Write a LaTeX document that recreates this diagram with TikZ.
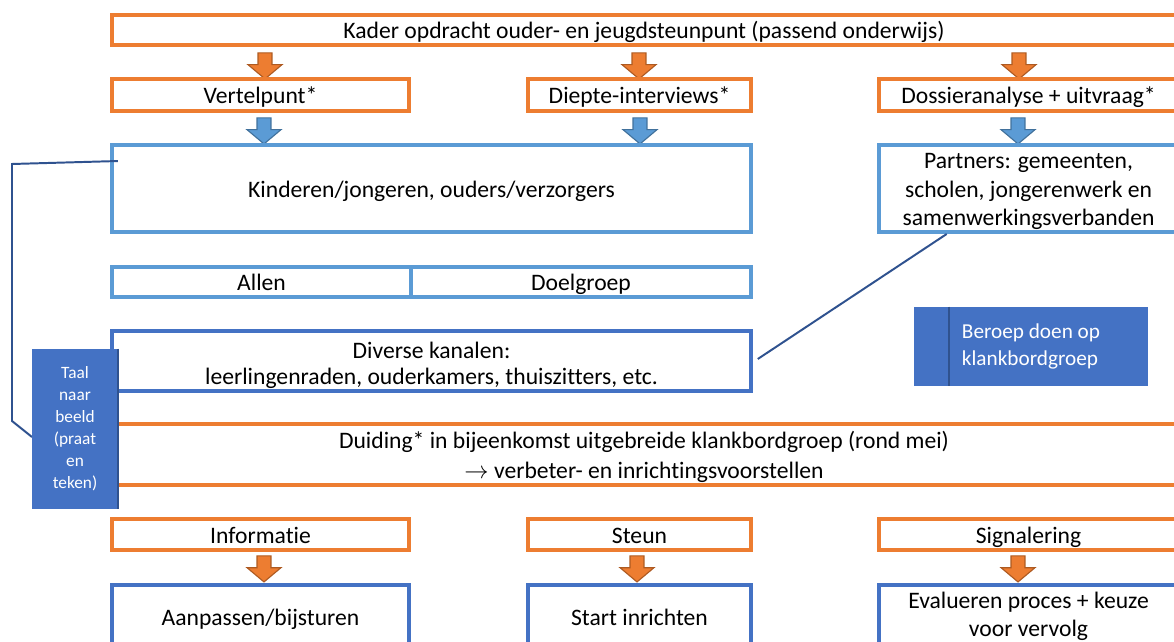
\documentclass[tikz,border=0pt]{standalone}
\usepackage{fontspec}
\setmainfont{Carlito}[Ligatures=NoCommon]
\usetikzlibrary{shapes.arrows,calc}
\definecolor{kaderorange}{HTML}{ED7D31}
\definecolor{orangeedge}{HTML}{AE5A21}
\definecolor{lichtblauw}{HTML}{5B9BD5}
\definecolor{lichtedge}{HTML}{41719C}
\definecolor{donkerblauw}{HTML}{4472C4}
\definecolor{blauwedge}{HTML}{2F528F}
\tikzset{
    %Define style for boxes
    obox/.style={
           rectangle,
           draw=kaderorange, line width=2.8pt,
           inner sep=0pt,
           text height=14pt,
           text depth=1.8pt},
    lbox/.style={
           obox,
           draw=lichtblauw},
    dbox/.style={
           obox,
           draw=donkerblauw, line width=2.4pt},
    fbox/.style={
           rectangle,
           fill=donkerblauw,
           text=white,
           inner sep=0pt},
    meerregel/.style={
           align=center,
           text height=,
           text depth=},
    % Define block arrows
    oarrow/.style={
           single arrow,
           shape border rotate=270,
           fill=kaderorange, draw=orangeedge, line width=0.8pt,
           minimum height=0.65cm,
           inner sep=0.16cm,
           single arrow head extend=0.25cm,
           single arrow tip angle=100},
    barrow/.style={
           oarrow,
           fill=lichtblauw, draw=lichtedge},
    % Define line style
    link/.style={
           draw=blauwedge,
           line width=1.4pt}
}
\begin{document}
\begin{tikzpicture}[x=0.025cm, y=-0.025cm, font=\fontsize{16.8}{20}\selectfont]
    \useasboundingbox (0,0) rectangle (1174,642);
    \clip (0,0) rectangle (1174,642);

    % TOP
    \node[obox, minimum width=26.6cm, minimum height=0.75cm] at (644,30) (kader)
        {Kader opdracht ouder- en jeugdsteunpunt (passend onderwijs)};
    \node[oarrow] at (265,63) (pijlA) {};
    \node[oarrow] at (639,63) (pijlB) {};
    \node[oarrow] at (1019,63) (pijlC) {};

    \node[obox, minimum width=7.425cm, minimum height=0.8cm] at (260.5,95) (vertel) {Vertelpunt*};
    \node[obox, minimum width=5.575cm, minimum height=0.8cm] at (639.5,95) (diepte) {Diepte-interviews*};
    \node[obox, minimum width=7.475cm, minimum height=0.8cm] at (1028.5,95) (dossier) {Dossieranalyse + uitvraag*};
    \node[barrow] at (264,128) (pijlD) {};
    \node[barrow] at (640,128) (pijlE) {};
    \node[barrow] at (1018,128) (pijlF) {};

    % MIDDLE
    \node[lbox, minimum width=15.975cm, minimum height=2.175cm] at (431.5,188.5) (kinderen)
        {Kinderen/jongeren, ouders/verzorgers};
    \node[lbox, meerregel, minimum width=7.475cm, minimum height=2.175cm] at (1028.5,188.5) (partners)
        {\rule{0pt}{15pt}Partners: gemeenten,\\ scholen, jongerenwerk en\\ samenwerkingsverbanden};
    \node[lbox, minimum width=7.475cm, minimum height=0.75cm] at (261.5,282) (allen) {Allen};
    \node[lbox, minimum width=8.5cm, minimum height=0.75cm] at (581,282) (doelgroep) {Doelgroep};
    \node[dbox, meerregel, minimum width=15.975cm, minimum height=1.5cm] at (431.5,361) (diverse)
        {\rule{0pt}{18pt}Diverse kanalen:\\[-1pt] leerlingenraden, ouderkamers, thuiszitters, etc.};
    \node[fbox, minimum width=5.85cm, minimum height=1.975cm, align=left,
        font=\fontsize{15.1}{19.2}\selectfont] at (1031,346.5) (beroep)
        {Beroep doen op\\ klankbordgroep};
    \draw[draw=blauwedge, line width=1.5pt]
        ($(beroep.north west)+(35,0)$) -- ($(beroep.south west)+(35,0)$);

    \node[obox, meerregel, minimum width=26.6cm, minimum height=1.525cm] at (644,454.5) (duiding)
        {\rule{0pt}{15.4pt}Duiding* in bijeenkomst uitgebreide klankbordgroep (rond mei)\\[1pt]
         $\rightarrow$ verbeter- en inrichtingsvoorstellen};

    % links
    \coordinate (kstart) at ($(kinderen.north west)+(8,18)$);
    \coordinate (hoekA) at (12,164);
    \coordinate (hoekB) at (12,421);
    \draw[link] (kstart) -- (hoekA) -- (hoekB) -- ($(27,429)+(5,8)$) coordinate (taalin);
    \draw[link] ($(partners.south west)!0.23!(partners.south east)$) -- ($(diverse.east)+(5,-2)$);

    \node[fbox, minimum width=2.15cm, minimum height=4cm, text width=2cm, align=center,
        font=\fontsize{12.3}{15.6}\selectfont] at (75,429) (taal)
        {Taal\\ naar\\ beeld\\ (praat\\ en\\ teken)};
    \draw[draw=blauwedge, line width=1.6pt] (taal.north east) -- (taal.south east);

    % BOTTOM
    \node[obox, minimum width=7.425cm, minimum height=0.775cm] at (260.5,534.5) (info) {Informatie};
    \node[obox, minimum width=5.575cm, minimum height=0.775cm] at (639.5,534.5) (steun) {Steun};
    \node[obox, minimum width=7.475cm, minimum height=0.775cm] at (1028.5,534.5) (signal) {Signalering};
    \node[oarrow] at (264,566) (pijlG) {};
    \node[oarrow] at (637,566) (pijlH) {};
    \node[oarrow] at (1018,566) (pijlI) {};

    \node[dbox, minimum width=7.425cm, minimum height=1.575cm] at (260.5,616.5) (aanpassen) {Aanpassen/bijsturen};
    \node[dbox, minimum width=5.575cm, minimum height=1.575cm] at (639.5,616.5) (start) {Start inrichten};
    \node[dbox, meerregel, minimum width=7.475cm, minimum height=1.575cm] at (1028.5,616.5) (evalueren)
        {Evalueren proces + keuze\\ voor vervolg};

\end{tikzpicture}
\end{document}
